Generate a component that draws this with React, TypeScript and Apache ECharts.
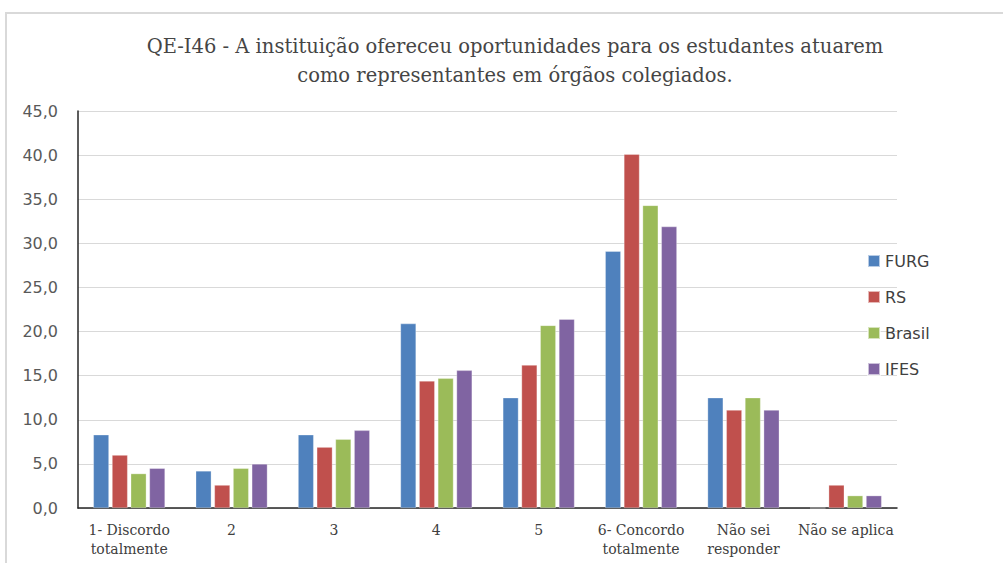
import React, { useEffect, useRef } from "react";
import * as echarts from "echarts";

const categories = [
  "1- Discordo\ntotalmente",
  "2",
  "3",
  "4",
  "5",
  "6- Concordo\ntotalmente",
  "Não sei\nresponder",
  "Não se aplica",
];
const seriesNames = ["FURG", "RS", "Brasil", "IFES"];
const furg = [8.3, 4.2, 8.3, 20.9, 12.5, 29.1, 12.5, 0];
const rs = [6.0, 2.6, 6.9, 14.4, 16.2, 40.1, 11.1, 2.6];
const brasil = [3.9, 4.5, 7.8, 14.7, 20.7, 34.3, 12.5, 1.4];
const ifes = [4.5, 5.0, 8.8, 15.6, 21.4, 31.9, 11.1, 1.4];
const colors = ["#4F81BD", "#C0504D", "#9BBB59", "#8064A2"];
const titleText =
  "QE-I46 - A instituição ofereceu oportunidades para os estudantes atuarem\ncomo representantes em órgãos colegiados.";

export default function App() {
  const ref = useRef<HTMLDivElement>(null);
  useEffect(() => {
    if (!ref.current) return;
    const chart = echarts.init(ref.current, null, { renderer: "svg" });
    const data = [furg, rs, brasil, ifes];
    chart.setOption({
      animation: false,
      backgroundColor: "#ffffff",
      title: {
        text: titleText,
        left: 510,
        top: 27,
        textAlign: "center",
        textStyle: {
          fontFamily: "DejaVu Serif",
          fontSize: 19.5,
          fontWeight: "normal",
          color: "#454545",
          lineHeight: 29,
        },
      },
      graphic: [
        {
          type: "rect",
          shape: { x: 6, y: 13, width: 1010, height: 600 },
          style: { fill: "none", stroke: "#d9d9d9", lineWidth: 2 },
          silent: true,
        },
      ],
      legend: {
        orient: "vertical",
        left: 862,
        top: 248,
        itemWidth: 12,
        itemHeight: 12,
        itemGap: 20,
        icon: "rect",
        textStyle: {
          fontFamily: "DejaVu Sans",
          fontSize: 16,
          color: "#404040",
          lineHeight: 16,
        },
        data: seriesNames,
      },
      grid: { left: 78, right: 106, top: 111, bottom: 55, containLabel: false },
      xAxis: {
        type: "category",
        data: categories,
        axisLine: { show: true, lineStyle: { color: "#262626", width: 1.5 } },
        axisTick: { show: false },
        axisLabel: {
          interval: 0,
          margin: 12,
          fontFamily: "DejaVu Serif",
          fontSize: 14,
          color: "#404040",
          lineHeight: 19,
        },
      },
      yAxis: {
        type: "value",
        min: 0,
        max: 45,
        interval: 5,
        axisLine: { show: true, lineStyle: { color: "#262626", width: 1.5 } },
        axisTick: { show: false },
        splitLine: { lineStyle: { color: "#d9d9d9", width: 1 } },
        axisLabel: {
          margin: 20,
          fontFamily: "DejaVu Sans",
          fontSize: 16,
          color: "#595959",
          formatter: (v: number) => v.toFixed(1).replace(".", ","),
        },
      },
      series: seriesNames.map((name, i) => ({
        name,
        type: "bar",
        data: data[i],
        barGap: "20%",
        barCategoryGap: "30%",
        itemStyle: { color: colors[i], borderColor: "rgba(255,255,255,0.6)", borderWidth: 0.5 },
      })),
    });
    return () => chart.dispose();
  }, []);
  return (
    <div
      ref={ref}
      style={{ position: "fixed", left: 0, top: 0, width: 1003, height: 563 }}
    />
  );
}
